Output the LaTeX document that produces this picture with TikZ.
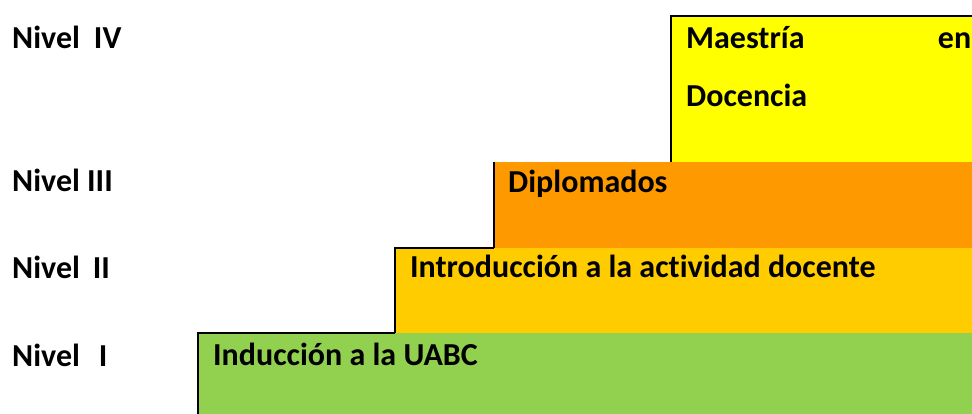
\documentclass[tikz,border=0pt]{standalone}
\usepackage{fontspec}
\setmainfont{Carlito}[Ligatures=NoCommon]
\usepackage{xcolor}
\usepackage{tikz}
\usetikzlibrary{positioning}
\definecolor{levelyellow}{HTML}{FFFF00}
\definecolor{levelorange}{HTML}{FF9900}
\definecolor{levelgold}{HTML}{FFCC00}
\definecolor{levelgreen}{HTML}{92D050}
\tikzset{
  edgeline/.style={line width=1.3pt,black},
  levellabel/.style={anchor=base west,inner sep=0pt,font=\bfseries\fontsize{32}{58}\selectfont},
  boxlabel/.style={levellabel,text=black}
}

\begin{document}
\begin{tikzpicture}[x=1pt,y=-1pt]
  \useasboundingbox (0,0) rectangle (972,414);
  \coordinate (G) at (198,333);
  \coordinate (A) at (395,248);
  \coordinate (D) at (494,162);
  \coordinate (M) at (671,16);
  % steps
  \fill[levelyellow] (M) rectangle (972,162);
  \fill[levelorange] (D) rectangle (972,248);
  \fill[levelgold] (A) rectangle (972,333);
  \fill[levelgreen] (G) rectangle (972,414);
  \draw[edgeline] (198,414) -- (G) -- (395,333);
  \draw[edgeline] (395,333) -- (A) -- (494,248);
  \draw[edgeline] (494,248) -- (D);
  \draw[edgeline] (671,162) -- (M) -- (972,16);
  % levels
  \node[levellabel] (n4) at (12,49) {Nivel\hspace{14pt}IV};
  \node[levellabel] (n3) at (12,192) {Nivel III};
  \node[levellabel] (n2) at (12,278) {Nivel\hspace{13pt}II};
  \node[levellabel] (n1) at (12,366) {Nivel\hspace{19pt}I};
  \node[boxlabel,text width=285pt] (maestria) at (686,49) {Maestría\hfill en\\Docencia};
  \node[boxlabel] (diplomados) at (508,193) {Diplomados};
  \node[boxlabel] (introduccion) at (410,277) {Introducción a la actividad docente};
  \node[boxlabel] (induccion) at (213,365) {Inducción a la UABC};
\end{tikzpicture}
\end{document}
